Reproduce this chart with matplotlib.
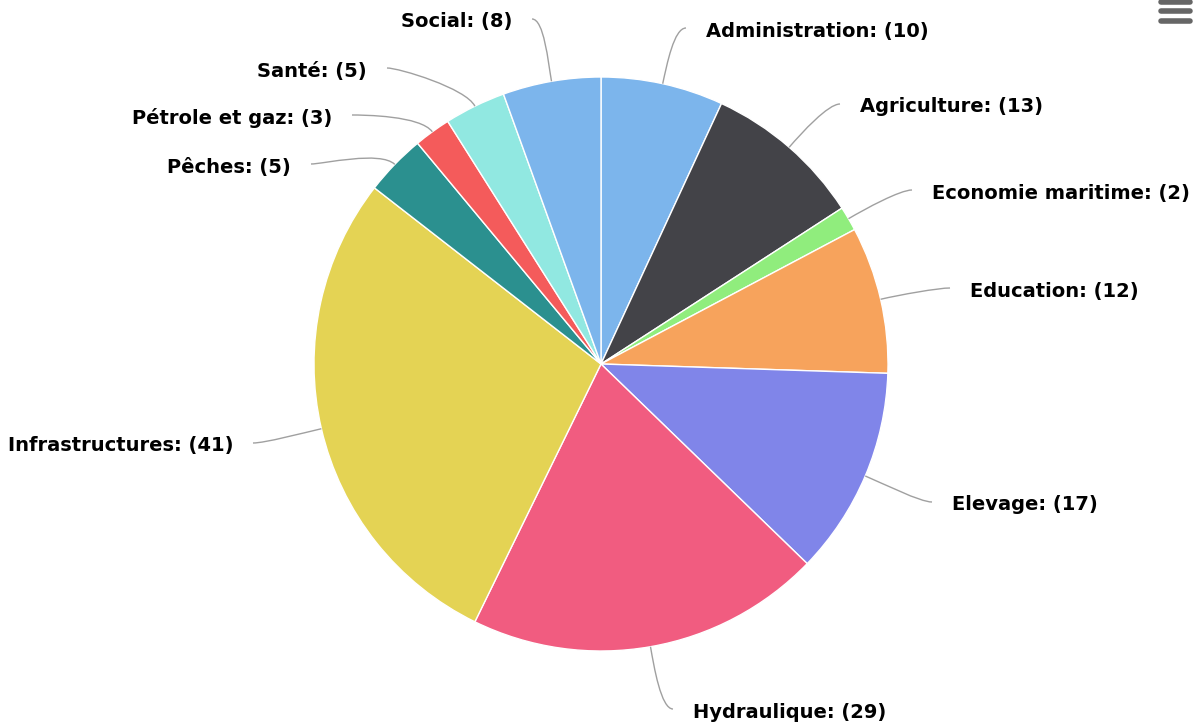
import numpy as np
import matplotlib.pyplot as plt
from matplotlib.path import Path
from matplotlib.patches import PathPatch

W, H = 1198, 727

categories = ['Administration', 'Agriculture', 'Economie maritime', 'Education', 'Elevage',
              'Hydraulique', 'Infrastructures', 'Pêches', 'Pétrole et gaz', 'Santé', 'Social']
counts = [10, 13, 2, 12, 17, 29, 41, 5, 3, 5, 8]
colors = ['#7cb5ec', '#434348', '#90ed7d', '#f7a35c', '#8085e9', '#f15c80',
          '#e4d354', '#2b908f', '#f45b5b', '#91e8e1', '#7cb5ec']

# label anchors in pixels (x, y from top); text runs away from the pie
label_pos = [(706, 31), (860, 107), (932, 193), (970, 291), (952, 505), (693, 712),
             (233, 446), (291, 167), (332, 118), (367, 71), (512, 22)]

cx, cy, r = 601, H - 364, 287

fig = plt.figure(figsize=(W / 100, H / 100), dpi=100)
ax = fig.add_axes([0, 0, 1, 1])
wedges, _ = ax.pie(counts, colors=colors, startangle=90, counterclock=False,
                   center=(cx, cy), radius=r,
                   wedgeprops=dict(edgecolor='white', linewidth=1))
ax.set_xlim(0, W)
ax.set_ylim(0, H)
ax.set_aspect('equal')
ax.axis('off')

for w, name, n, (lx, ly) in zip(wedges, categories, counts, label_pos):
    ang = np.deg2rad((w.theta1 + w.theta2) / 2)
    right = lx > cx
    ty = H - ly
    ex = lx - 20 if right else lx + 20
    ey = ty + 3
    p0 = (cx + r * np.cos(ang), cy + r * np.sin(ang))
    p1 = (cx + (r + 20) * np.cos(ang), cy + (r + 20) * np.sin(ang))
    p2 = (ex - 12 if right else ex + 12, ey)
    path = Path([p0, p1, p2, (ex, ey)], [Path.MOVETO, Path.CURVE4, Path.CURVE4, Path.CURVE4])
    ax.add_patch(PathPatch(path, fill=False, edgecolor='#a0a0a0', linewidth=1))
    ax.text(lx, ty, f'{name}: ({n})', ha='left' if right else 'right', va='center',
            fontsize=14, fontweight='bold', color='black', family='DejaVu Sans')

# export menu icon
for yb in (2, 11, 21):
    ax.plot([1161, 1190], [H - yb, H - yb], color='#666666', linewidth=4,
            solid_capstyle='round')

fig.savefig('out.png', dpi=100)
